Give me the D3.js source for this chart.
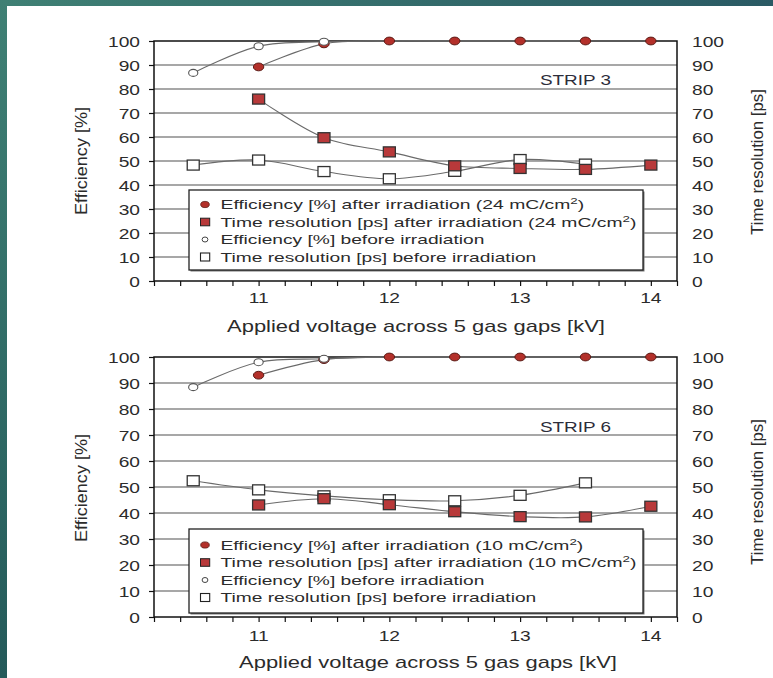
<!DOCTYPE html>
<html><head><meta charset="utf-8">
<script src="https://cdn.jsdelivr.net/npm/d3@7"></script>
<style>
body{margin:0;background:#fff;}
svg{display:block;font-family:"Liberation Sans", Arial, sans-serif;}
</style>
</head><body><svg id="c" width="773" height="678"></svg>
<script>
// ---------- data ----------
const xTickValues = [11, 12, 13, 14];
const yTickValues = [0, 10, 20, 30, 40, 50, 60, 70, 80, 90, 100];
const vAfter  = [11, 11.5, 12, 12.5, 13, 13.5, 14];
const vBefore = [10.5, 11, 11.5, 12, 12.5, 13, 13.5];

// STRIP 3 (24 mC/cm2)
const s3EffAfter   = [89.2, 98.8, 100, 100, 100, 100, 100];
const s3EffBefore  = [86.7, 97.8, 99.7, 100, 100, 100, 100];
const s3TimeAfter  = [75.8, 59.7, 53.8, 48.0, 46.9, 46.5, 48.3];
const s3TimeBefore = [48.3, 50.4, 45.6, 42.6, 45.7, 50.6, 48.7];

// STRIP 6 (10 mC/cm2)
const s6EffAfter   = [93.0, 99.0, 100, 100, 100, 100, 100];
const s6EffBefore  = [88.4, 98.0, 99.3, 100, 100, 100, 100];
const s6TimeAfter  = [43.1, 45.5, 43.2, 40.5, 38.6, 38.5, 42.6];
const s6TimeBefore = [52.4, 48.9, 46.6, 45.1, 44.7, 46.8, 51.6];

const xTitle = "Applied voltage across 5 gas gaps [kV]";
const yLeftTitle = "Efficiency [%]";
const yRightTitle = "Time resolution [ps]";

// ---------- drawing ----------
const svg = d3.select("#c");
const defs = svg.append("defs");
const gTop = defs.append("linearGradient").attr("id","gt").attr("x1","0").attr("x2","1").attr("y1","0").attr("y2","0");
gTop.append("stop").attr("offset","0").attr("stop-color","#3f8074");
gTop.append("stop").attr("offset","1").attr("stop-color","#2a5a64");
const gLeft = defs.append("linearGradient").attr("id","gl").attr("x1","0").attr("x2","0").attr("y1","0").attr("y2","1");
gLeft.append("stop").attr("offset","0").attr("stop-color","#3f8074");
gLeft.append("stop").attr("offset","1").attr("stop-color","#245a5a");

svg.append("rect").attr("width",773).attr("height",678).attr("fill","#fff");
svg.append("rect").attr("x",0).attr("y",0).attr("width",773).attr("height",6).attr("fill","url(#gt)");
svg.append("rect").attr("x",0).attr("y",0).attr("width",7).attr("height",678).attr("fill","url(#gl)");

const TXT = "#2b2b2b";

function fitText(sel, x, y, width, rot) {
  const len = sel.node().getComputedTextLength();
  const sx = width / len;
  sel.attr("x",0).attr("y",0)
     .attr("transform", `translate(${x},${y}) rotate(${rot||0}) scale(${sx},1)`);
}
function stretchText(sel, x, y, sx) {
  sel.attr("x",0).attr("y",0).attr("transform", `translate(${x},${y}) scale(${sx},1)`);
}

function panel(cfg) {
  const g = svg.append("g");
  const x = d3.scaleLinear().domain([10.2, 14.2]).range([154, 677]);
  const y = d3.scaleLinear().domain([0, 100]).range([cfg.bottom, cfg.top]);
  const yR = d3.scaleLinear().domain([0, 100]).range([cfg.bottom, cfg.top]);

  // gridlines
  g.append("g").selectAll("line").data(yTickValues.filter(v => v > 0 && v < 100)).join("line")
    .attr("x1", x(10.2)).attr("x2", x(14.2))
    .attr("y1", d => y(d)).attr("y2", d => y(d))
    .attr("stroke", "#8a8a8a").attr("stroke-width", 1.4);

  // axes
  const minor = d3.range(10.2, 14.21, 0.2).map(v => +v.toFixed(1));
  const xAxis = d3.axisBottom(x).tickValues(minor).tickSize(5).tickFormat("");
  const gx = g.append("g").attr("transform", `translate(0,${cfg.bottom})`).call(xAxis);
  gx.select(".domain").remove();
  gx.selectAll("line").attr("stroke", "#111").attr("stroke-width", 1.2);

  const yAxis = d3.axisLeft(y).tickValues(yTickValues).tickSize(5).tickFormat("");
  const gy = g.append("g").attr("transform", `translate(${x(10.2)},0)`).call(yAxis);
  gy.select(".domain").remove();
  gy.selectAll("line").attr("stroke", "#111").attr("stroke-width", 1.2);

  // frame
  g.append("rect").attr("x", x(10.2)).attr("y", y(100))
    .attr("width", x(14.2) - x(10.2)).attr("height", y(0) - y(100))
    .attr("fill", "none").attr("stroke", "#111").attr("stroke-width", 1.5);

  // tick labels
  yTickValues.forEach(v => {
    const t = g.append("text").text(v).attr("font-size", 15).attr("fill", TXT)
      .attr("text-anchor", "end");
    stretchText(t, 140, y(v) + 5.5, 1.28);
    const t2 = g.append("text").text(v).attr("font-size", 15).attr("fill", TXT)
      .attr("text-anchor", "start");
    stretchText(t2, 692, yR(v) + 5.5, 1.28);
  });
  xTickValues.forEach(v => {
    const t = g.append("text").text(v).attr("font-size", 15).attr("fill", TXT)
      .attr("text-anchor", "middle");
    stretchText(t, x(v), cfg.bottom + cfg.xTickDy, 1.28);
  });

  // titles
  const xt = g.append("text").text(xTitle).attr("font-size", 16).attr("fill", TXT).attr("text-anchor","middle");
  fitText(xt, cfg.xTitleX, cfg.bottom + cfg.xTitleDy, 378);
  const yl = g.append("text").text(yLeftTitle).attr("font-size", 16).attr("fill", TXT).attr("text-anchor","middle");
  fitText(yl, 87, (cfg.top + cfg.bottom) / 2 + cfg.yTitleShift, 108, -90);
  const yr = g.append("text").text(yRightTitle).attr("font-size", 16).attr("fill", TXT).attr("text-anchor","middle");
  fitText(yr, 763, (cfg.top + cfg.bottom) / 2 + cfg.yRTitleShift, 146, -90);

  // strip label
  const st = g.append("text").text(cfg.strip).attr("font-size", 15).attr("fill", "#2d2d3a").attr("text-anchor","start");
  fitText(st, 540, cfg.stripY, 71);

  // series
  const curve = d3.curveCatmullRom.alpha(0.5);
  const line = d3.line().x(d => x(d[0])).y(d => y(d[1])).curve(curve);
  const zip = (xs, ys) => xs.map((v, i) => [v, ys[i]]);
  const effA = zip(vAfter, cfg.effAfter), effB = zip(vBefore, cfg.effBefore);
  const timA = zip(vAfter, cfg.timeAfter), timB = zip(vBefore, cfg.timeBefore);

  [effB, timB, effA, timA].forEach(d => {
    g.append("path").attr("d", line(d)).attr("fill", "none")
      .attr("stroke", "#6a6a6a").attr("stroke-width", 1.1);
  });

  // before markers
  g.append("g").selectAll("rect").data(timB).join("rect")
    .attr("x", d => x(d[0]) - 6).attr("y", d => y(d[1]) - 5)
    .attr("width", 12).attr("height", 10)
    .attr("fill", "#fff").attr("stroke", "#333").attr("stroke-width", 1.3);
  // after markers
  g.append("g").selectAll("rect").data(timA).join("rect")
    .attr("x", d => x(d[0]) - 6).attr("y", d => y(d[1]) - 5)
    .attr("width", 12).attr("height", 10)
    .attr("fill", "#b8393a").attr("stroke", "#333").attr("stroke-width", 1.3);
  g.append("g").selectAll("ellipse").data(effA).join("ellipse")
    .attr("cx", d => x(d[0])).attr("cy", d => y(d[1]))
    .attr("rx", 5.2).attr("ry", 3.9)
    .attr("fill", "#b3302a").attr("stroke", "#5a1a15").attr("stroke-width", 1);
  g.append("g").selectAll("ellipse").data(effB.filter(d => d[1] < 99.5 || d[0] === 11.5)).join("ellipse")
    .attr("cx", d => x(d[0])).attr("cy", d => y(d[1]))
    .attr("rx", 4.6).attr("ry", 3.5)
    .attr("fill", "#fff").attr("stroke", "#555").attr("stroke-width", 1.1);

  // legend
  const L = cfg.legend;
  g.append("rect").attr("x", L.x + 1.5).attr("y", L.y + 1.5).attr("width", L.w).attr("height", L.h)
    .attr("fill", "#777");
  g.append("rect").attr("x", L.x).attr("y", L.y).attr("width", L.w).attr("height", L.h)
    .attr("fill", "#fff").attr("stroke", "#222").attr("stroke-width", 1.3);
  const rows = cfg.legendRows;
  rows.forEach((r, i) => {
    const by = L.base + i * 17.5;
    const cy = by - 4.5;
    if (r.m === "dotA") g.append("ellipse").attr("cx", 205).attr("cy", cy).attr("rx", 4.3).attr("ry", 3.1)
      .attr("fill", "#b3302a").attr("stroke", "#5a1a15").attr("stroke-width", 0.8);
    if (r.m === "sqA") g.append("rect").attr("x", 200.5).attr("y", cy - 3.8).attr("width", 9.2).attr("height", 7.6)
      .attr("fill", "#b8393a").attr("stroke", "#222").attr("stroke-width", 1);
    if (r.m === "dotB") g.append("ellipse").attr("cx", 205).attr("cy", cy).attr("rx", 2.9).attr("ry", 2.5)
      .attr("fill", "#fff").attr("stroke", "#444").attr("stroke-width", 1);
    if (r.m === "sqB") g.append("rect").attr("x", 200.5).attr("y", cy - 4).attr("width", 9.2).attr("height", 8)
      .attr("fill", "#fff").attr("stroke", "#222").attr("stroke-width", 1.1);
    const t = g.append("text").attr("font-size", 13).attr("fill", TXT).attr("text-anchor", "start");
    t.append("tspan").text(r.t);
    if (r.sup) {
      t.append("tspan").text("2").attr("font-size", 9).attr("dy", -5);
      t.append("tspan").text(")").attr("dy", 5);
    }
    fitText(t, 220.5, by, r.w);
  });
}

panel({
  top: 41, bottom: 281, xTickDy: 22, xTitleDy: 51, xTitleX: 416,
  yTitleShift: 0, yRTitleShift: 1, strip: "STRIP 3", stripY: 84.5,
  effAfter: s3EffAfter, effBefore: s3EffBefore, timeAfter: s3TimeAfter, timeBefore: s3TimeBefore,
  legend: {x: 189, y: 190, w: 454, h: 80, base: 209},
  legendRows: [
    {m: "dotA", t: "Efficiency [%] after irradiation (24 mC/cm", sup: true, w: 364},
    {m: "sqA",  t: "Time resolution [ps] after irradiation (24 mC/cm", sup: true, w: 416},
    {m: "dotB", t: "Efficiency [%] before irradiation", w: 264},
    {m: "sqB",  t: "Time resolution [ps] before irradiation", w: 316}
  ]
});
panel({
  top: 357, bottom: 617, xTickDy: 24, xTitleDy: 50.5, xTitleX: 428,
  yTitleShift: 1, yRTitleShift: 5, strip: "STRIP 6", stripY: 432.4,
  effAfter: s6EffAfter, effBefore: s6EffBefore, timeAfter: s6TimeAfter, timeBefore: s6TimeBefore,
  legend: {x: 189, y: 529, w: 454, h: 84, base: 549.5},
  legendRows: [
    {m: "dotA", t: "Efficiency [%] after irradiation (10 mC/cm", sup: true, w: 363},
    {m: "sqA",  t: "Time resolution [ps] after irradiation (10 mC/cm", sup: true, w: 416},
    {m: "dotB", t: "Efficiency [%] before irradiation", w: 264},
    {m: "sqB",  t: "Time resolution [ps] before irradiation", w: 316}
  ]
});
</script></body></html>
